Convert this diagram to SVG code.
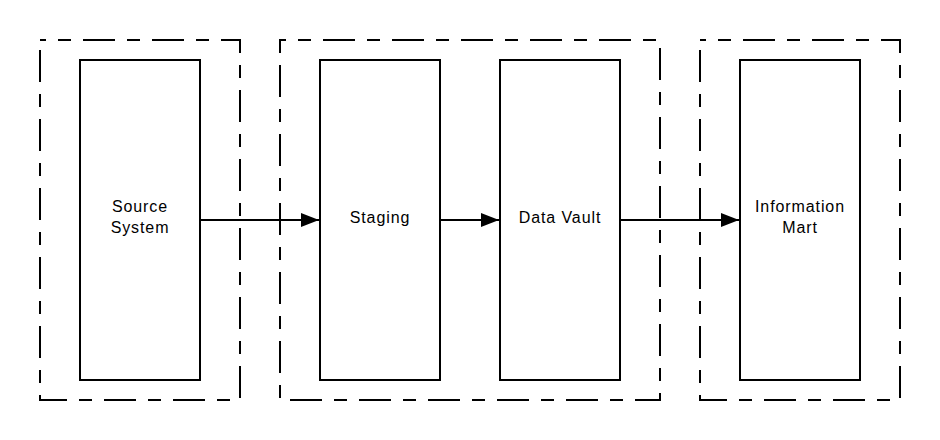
<svg xmlns="http://www.w3.org/2000/svg" width="940" height="440" viewBox="0 0 940 440">
<style>
.grp{fill:none;stroke:#000;stroke-width:2;stroke-dasharray:32 12 13 12;stroke-dashoffset:26}
.box{fill:#fff;stroke:#000;stroke-width:2}
.lbl{font-family:"Liberation Sans",Arial,sans-serif;font-size:16px;letter-spacing:0.9px;fill:#000;text-anchor:middle}
.conn{fill:none;stroke:#000;stroke-width:2;marker-end:url(#arr)}
</style>
<defs>
<marker id="arr" viewBox="0 0 18 14" refX="18" refY="7" markerWidth="18" markerHeight="14" markerUnits="userSpaceOnUse" orient="auto">
<path d="M0,0 L18,7 L0,14 z" fill="#000"/>
</marker>
</defs>
<rect width="940" height="440" fill="#fff"/>
<g id="groups">
<rect class="grp" x="40" y="40" width="200" height="360"/>
<rect class="grp" x="280" y="40" width="380" height="360"/>
<rect class="grp" x="700" y="40" width="200" height="360"/>
</g>
<g id="source-system">
<rect class="box" x="80" y="60" width="120" height="320"/>
<text class="lbl" x="140" y="212">Source</text>
<text class="lbl" x="140" y="233">System</text>
</g>
<g id="staging">
<rect class="box" x="320" y="60" width="120" height="320"/>
<text class="lbl" x="380" y="223">Staging</text>
</g>
<g id="data-vault">
<rect class="box" x="500" y="60" width="120" height="320"/>
<text class="lbl" x="560" y="223">Data Vault</text>
</g>
<g id="information-mart">
<rect class="box" x="740" y="60" width="120" height="320"/>
<text class="lbl" x="800" y="212">Information</text>
<text class="lbl" x="800" y="233">Mart</text>
</g>
<g id="connectors">
<line class="conn" x1="200" y1="220" x2="319" y2="220"/>
<line class="conn" x1="440" y1="220" x2="499" y2="220"/>
<line class="conn" x1="620" y1="220" x2="739" y2="220"/>
</g>
</svg>
